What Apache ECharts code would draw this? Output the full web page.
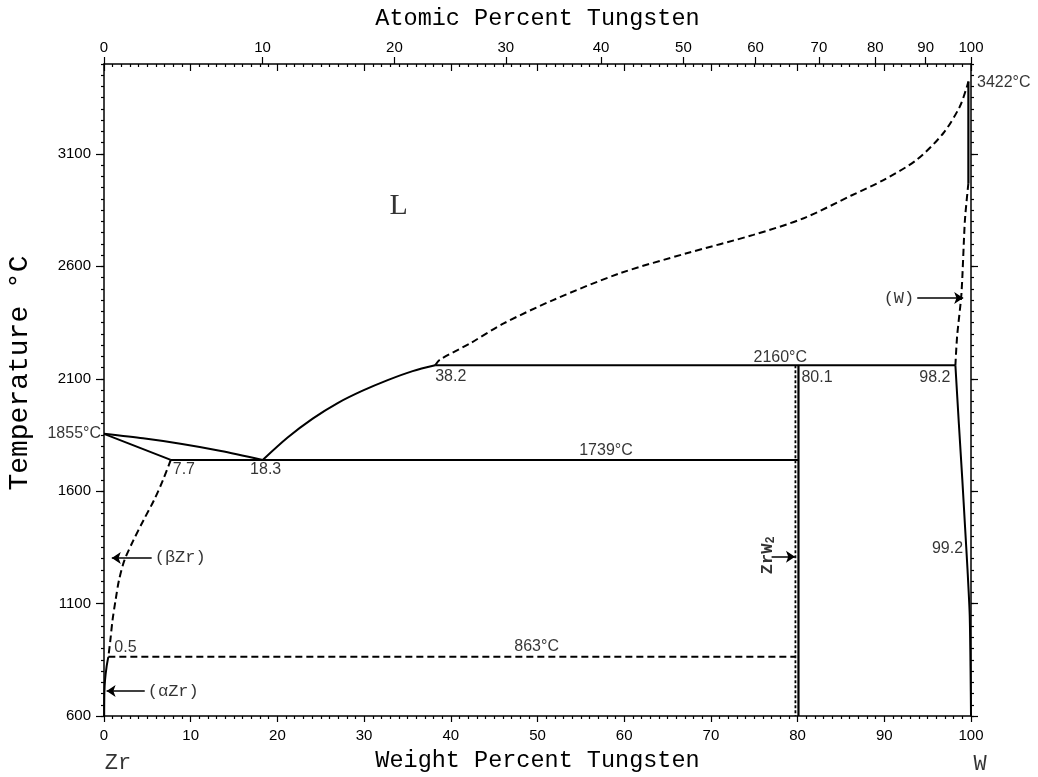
<!DOCTYPE html>
<html><head><meta charset="utf-8">
<script src="https://cdn.jsdelivr.net/npm/echarts@6/dist/echarts.min.js"></script>
<style>html,body{margin:0;padding:0;background:#fff}#c{width:1038px;height:777px}</style>
</head><body><div id="c"></div>
<script>
// ---------- data ----------
const weightTicks = [0,10,20,30,40,50,60,70,80,90,100];
const atomicTicks = [0,10,20,30,40,50,60,70,80,90,100];
const tempTicks = [600,1100,1600,2100,2600,3100];

const liquidusZrSide   = [[0,1855],[4.5,1835],[9,1810],[13.5,1779],[18.3,1739]];
const solidusBetaZr    = [[0,1855],[7.7,1739]];
const eutectic1739     = [[7.7,1739],[80.1,1739]];
const betaZrSolvus     = [[7.7,1739],[6.8,1649],[5.77,1560],[4.56,1471],[3.4,1382],[2.36,1293],[1.73,1204],[1.33,1114],[0.98,1025],[0.73,936],[0.5,863]];
const alphaZrSolvus    = [[0.5,863],[0.3,820],[0.12,760],[0.04,700],[0.02,600]];
const eutectoid863     = [[0.5,863],[79.75,863]];
const zrw2Solid        = [[80.1,2160],[80.1,600]];
const zrw2Dashed       = [[79.75,2160],[79.75,600]];
const peritectic2160   = [[38.2,2160],[98.2,2160]];
const liquidusMid      = [[18.3,1739],[21.18,1839],[24.07,1923],[26.95,1992],[29.83,2047],[32.72,2094],[35.6,2134],[38.2,2160]];
const liquidusW        = [[38.2,2160],[38.75,2185],[42.2,2257],[46.1,2346],[51.8,2450],[59.5,2569],[67.2,2658],[74.9,2740],[80.7,2814],[86.2,2915],[89.9,2984],[93.7,3073],[96.8,3192],[98.7,3310],[99.5,3395],[99.7,3422]];
const solidusWSolid    = [[99.7,3422],[99.7,2970]];
const solidusWDashed   = [[99.7,2970],[99.3,2806],[98.9,2480],[98.4,2290],[98.2,2160]];
const solvusW          = [[98.2,2160],[98.6,1900],[99.0,1650],[99.3,1450],[99.6,1250],[99.85,1050],[99.95,800],[100,600]];

const arrowBetaZr  = [[5.5,1303],[0.9,1303]];
const arrowAlphaZr = [[4.7,711],[0.3,711]];
const arrowZrW2    = [[77.0,1308],[79.7,1308]];
const arrowW       = [[93.8,2459],[99.1,2459]];

const numberLabels   = ['1855°C','7.7','18.3','1739°C','38.2','2160°C','80.1','98.2','99.2','0.5','863°C','3422°C'];
const numberLabelAt  = [[0,1855],[7.7,1739],[18.3,1739],[57.9,1739],[38.2,2160],[78.0,2160],[80.1,2160],[98.2,2160],[99.2,1346],[0.5,863],[49.9,863],[100,3422]];
const phaseLabels    = ['(βZr)','(αZr)','(W)','L','ZrW2','Zr','W'];
const phaseLabelAt   = [[5.5,1303],[4.7,711],[93.8,2459],[34,2869],[76.5,1315],[0,600],[100,600]];

// ---------- helpers ----------
const MW = 183.84, MZ = 91.224;
const atToWt = a => 100 * a * MW / (a * MW + (100 - a) * MZ);
const wtToAt = w => 100 * (w / MW) / ((w / MW) + ((100 - w) / MZ));

const INK = '#000';
const tickFont = {fontFamily:'Liberation Sans', fontSize:15, color:INK};
const numFont = {fontFamily:'Liberation Sans', fontSize:16, color:INK};
const monoFont = 'Liberation Mono';

const numStyles = [
  {align:'right', offset:[-3,0]},
  {align:'left', offset:[2,10]},
  {align:'center', offset:[3,10]},
  {align:'center', offset:[0,-9]},
  {align:'left', offset:[0,11]},
  {align:'center', offset:[0,-8]},
  {align:'left', offset:[3,12]},
  {align:'right', offset:[-5,12]},
  {align:'right', offset:[-1,0]},
  {align:'left', offset:[6,-9]},
  {align:'center', offset:[0,-10]},
  {align:'left', offset:[6,1]}
];
const phaseStyles = [
  {align:'left', offset:[3,0], fontFamily:monoFont, fontSize:17},
  {align:'left', offset:[3,0], fontFamily:monoFont, fontSize:17},
  {align:'right', offset:[-3,0], fontFamily:monoFont, fontSize:17},
  {align:'center', offset:[0,0], fontFamily:'Liberation Serif', fontSize:30},
  {align:'center', offset:[0,0], fontFamily:monoFont, fontSize:17, rotate:90, fontWeight:'bold'},
  {align:'center', offset:[14,47], fontFamily:monoFont, fontSize:22},
  {align:'center', offset:[9,48], fontFamily:monoFont, fontSize:22}
];

const labelData = [];
numberLabels.forEach((t,i) => {
  const s = numStyles[i];
  labelData.push({value:numberLabelAt[i], label:Object.assign({show:true, formatter:t, verticalAlign:'middle', align:s.align, offset:s.offset}, numFont)});
});
phaseLabels.forEach((t,i) => {
  const s = phaseStyles[i];
  const lab = {show:true, verticalAlign:'middle', align:s.align, offset:s.offset, color:INK,
    fontFamily:s.fontFamily, fontSize:s.fontSize, fontWeight:s.fontWeight||'normal', rotate:s.rotate||0};
  if (t === 'ZrW2') {
    lab.formatter = '{m|ZrW}{s|2}';
    lab.rich = {m:{fontFamily:monoFont, fontSize:17, fontWeight:'bold', color:INK},
                s:{fontFamily:monoFont, fontSize:12, fontWeight:'bold', color:INK, padding:[8,0,0,0]}};
  } else lab.formatter = t;
  labelData.push({value:phaseLabelAt[i], label:lab});
});

function curve(data, dashed, smooth, width) {
  return {type:'line', data:data, xAxisIndex:0, yAxisIndex:0, showSymbol:false, symbol:'none',
    smooth:smooth||false, clip:false, silent:true,
    lineStyle:{color:INK, width:width||2, type: dashed ? dashed : 'solid'}};
}
function arrow(data) {
  return {type:'lines', coordinateSystem:'cartesian2d', xAxisIndex:0, yAxisIndex:0, silent:true,
    symbol:['none','arrow'], symbolSize:[0,9],
    lineStyle:{color:INK, width:1.6, opacity:1, curveness:0},
    data:[{coords:data}]};
}

const axisLineStyle = {color:INK, width:1.5};
const tickStyle = {color:INK, width:1.2};
const baseX = {type:'value', min:0, max:100, splitLine:{show:false}, nameMoveOverlap:false};
const baseY = {type:'value', min:600, max:3500, splitLine:{show:false}, nameMoveOverlap:false};

const option = {
  animation:false,
  backgroundColor:'#fff',
  grid:{left:104, right:67, top:64, bottom:61, outerBoundsMode:'none', containLabel:false},
  xAxis:[
    Object.assign({}, baseX, {position:'bottom', interval:10,
      axisLine:{show:true, onZero:false, lineStyle:axisLineStyle},
      axisTick:{show:true, inside:false, length:6, lineStyle:tickStyle},
      minorTick:{show:true, splitNumber:10, length:3, lineStyle:tickStyle},
      axisLabel:Object.assign({show:true, margin:12, formatter:v=>String(v)}, tickFont),
      name:'Weight Percent Tungsten', nameLocation:'middle', nameGap:33,
      nameTextStyle:{fontFamily:monoFont, fontSize:23.5, color:INK}}),
    Object.assign({}, baseX, {position:'top',
      axisLine:{show:true, onZero:false, lineStyle:axisLineStyle},
      axisTick:{show:true, inside:false, length:7, lineStyle:tickStyle, customValues:atomicTicks.map(atToWt)},
      axisLabel:Object.assign({show:true, margin:9, customValues:atomicTicks.map(atToWt), formatter:v=>String(Math.round(wtToAt(v)))}, tickFont),
      name:'Atomic Percent Tungsten', nameLocation:'middle', nameGap:33,
      nameTextStyle:{fontFamily:monoFont, fontSize:23.5, color:INK}}),
    Object.assign({}, baseX, {position:'top', interval:10,
      axisLine:{show:false, onZero:false},
      axisTick:{show:true, inside:true, length:7, lineStyle:tickStyle},
      minorTick:{show:true, splitNumber:10, length:3, lineStyle:tickStyle},
      axisLabel:{show:false}})
  ],
  yAxis:[
    Object.assign({}, baseY, {position:'left',
      axisLine:{show:true, onZero:false, lineStyle:axisLineStyle},
      axisTick:{show:true, inside:false, length:8, lineStyle:tickStyle, customValues:tempTicks},
      axisLabel:Object.assign({show:true, margin:13, customValues:tempTicks, formatter:v=>String(v)}, tickFont),
      name:'Temperature °C', nameLocation:'middle', nameGap:70, nameRotate:90,
      nameTextStyle:{fontFamily:monoFont, fontSize:28, color:INK, padding:[0,0,0,34]}}),
    Object.assign({}, baseY, {position:'left', interval:50,
      axisLine:{show:false, onZero:false},
      axisTick:{show:true, inside:false, length:3, lineStyle:tickStyle},
      axisLabel:{show:false}}),
    Object.assign({}, baseY, {position:'right',
      axisLine:{show:true, onZero:false, lineStyle:axisLineStyle},
      axisTick:{show:true, inside:false, length:7, lineStyle:tickStyle, customValues:tempTicks},
      axisLabel:{show:false}}),
    Object.assign({}, baseY, {position:'right', interval:50,
      axisLine:{show:false, onZero:false},
      axisTick:{show:true, inside:false, length:3, lineStyle:tickStyle},
      axisLabel:{show:false}})
  ],
  series:[
    curve(liquidusZrSide, null, 0.25),
    curve(solidusBetaZr),
    curve(eutectic1739),
    curve(betaZrSolvus, [7,4], 0.3),
    curve(alphaZrSolvus, null, 0.25),
    curve(eutectoid863, [7,4]),
    curve(zrw2Solid, null, false, 2.2),
    curve(zrw2Dashed, [3,2], false, 1.8),
    curve(peritectic2160),
    curve(liquidusMid, null, 0.3),
    curve(liquidusW, [7,4], 0.3),
    curve(solidusWSolid, null, false, 2.2),
    curve(solidusWDashed, [7,4], 0.25),
    curve(solvusW, null, 0.25),
    arrow(arrowBetaZr), arrow(arrowAlphaZr), arrow(arrowZrW2), arrow(arrowW),
    {type:'scatter', xAxisIndex:0, yAxisIndex:0, symbolSize:1, clip:false, silent:true, z:10,
     itemStyle:{color:'rgba(0,0,0,0)'}, data:labelData}
  ]
};
const chart = echarts.init(document.getElementById('c'), null, {renderer:'canvas'});
chart.setOption(option);
</script></body></html>
